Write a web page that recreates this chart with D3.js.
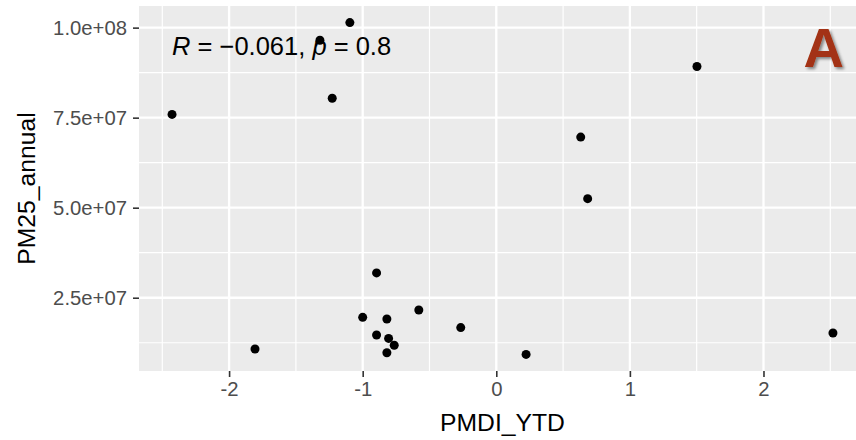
<!DOCTYPE html>
<html>
<head>
<meta charset="utf-8">
<script src="https://cdn.jsdelivr.net/npm/d3@7"></script>
<style>
  body { margin: 0; background: #fff; }
  text { font-family: "Liberation Sans", Arial, sans-serif; }
</style>
</head>
<body>
<div id="chart"></div>
<script>
// values
var pmdi = [-1.096, -1.32, -1.228, -2.427, 1.502, 0.632, 0.684, -0.896, -0.58, -1.0,
            -0.819, -0.896, -0.806, -0.764, -0.819, -1.806, -0.266, 0.223, 2.52]
var pm25 = [1.014e8, 9.65e7, 8.04e7, 7.59e7, 8.92e7, 6.96e7, 5.25e7, 3.19e7, 2.16e7, 1.955e7,
            1.91e7, 1.465e7, 1.37e7, 1.18e7, 0.973e7, 1.076e7, 1.67e7, 0.926e7, 1.52e7]
var xTicks = [-2, -1, 0, 1, 2]
var xMinor = [-2.5, -1.5, -0.5, 0.5, 1.5, 2.5]
var yTicks = [2.5e7, 5.0e7, 7.5e7, 1.0e8]
var yMinor = [1.25e7, 3.75e7, 6.25e7, 8.75e7]
var yLabels = ["2.5e+07", "5.0e+07", "7.5e+07", "1.0e+08"]

var width = 856
var height = 440
var pL = 139, pR = 866, pT = 6, pB = 371

// ggplot style 5% expansion
function expand(ext) {
  var pad = (ext[1] - ext[0]) * 0.05
  return [ext[0] - pad, ext[1] + pad]
}
var x = d3.scaleLinear().domain(expand(d3.extent(pmdi))).range([pL, pR])
var y = d3.scaleLinear().domain(expand(d3.extent(pm25))).range([pB, pT])

var svg = d3.select("#chart").append("svg")
    .attr("width", width)
    .attr("height", height)

var defs = svg.append("defs")
defs.append("clipPath").attr("id", "panel")
  .append("rect").attr("x", pL).attr("y", pT)
  .attr("width", pR - pL).attr("height", pB - pT)
var sh = defs.append("filter").attr("id", "shadow")
  .attr("x", "-20%").attr("y", "-20%").attr("width", "150%").attr("height", "150%")
sh.append("feDropShadow").attr("dx", 2).attr("dy", 2).attr("stdDeviation", 1.5)
  .attr("flood-color", "#000").attr("flood-opacity", 0.45)

var panel = svg.append("g").attr("clip-path", "url(#panel)")
panel.append("rect")
    .attr("x", pL).attr("y", pT)
    .attr("width", pR - pL).attr("height", pB - pT)
    .attr("fill", "#ebebeb")

// grid
panel.selectAll(".xminor").data(xMinor).enter().append("line")
    .attr("x1", d => x(d)).attr("x2", d => x(d))
    .attr("y1", pT).attr("y2", pB)
    .attr("stroke", "#fff").attr("stroke-width", 1.2)
panel.selectAll(".yminor").data(yMinor).enter().append("line")
    .attr("y1", d => y(d)).attr("y2", d => y(d))
    .attr("x1", pL).attr("x2", pR)
    .attr("stroke", "#fff").attr("stroke-width", 1.2)
panel.selectAll(".xmajor").data(xTicks).enter().append("line")
    .attr("x1", d => x(d)).attr("x2", d => x(d))
    .attr("y1", pT).attr("y2", pB)
    .attr("stroke", "#fff").attr("stroke-width", 2.3)
panel.selectAll(".ymajor").data(yTicks).enter().append("line")
    .attr("y1", d => y(d)).attr("y2", d => y(d))
    .attr("x1", pL).attr("x2", pR)
    .attr("stroke", "#fff").attr("stroke-width", 2.3)

// axes
var xAxis = svg.append("g")
    .attr("transform", "translate(0," + pB + ")")
    .call(d3.axisBottom(x).tickValues(xTicks).tickSize(6).tickPadding(5).tickFormat(d3.format("d")))
var yAxis = svg.append("g")
    .attr("transform", "translate(" + pL + ",0)")
    .call(d3.axisLeft(y).tickValues(yTicks).tickSize(6).tickPadding(6).tickFormat((d, i) => yLabels[i]))
;[xAxis, yAxis].forEach(function(a) {
  a.select(".domain").remove()
  a.selectAll(".tick line").attr("stroke", "#333").attr("stroke-width", 1.6)
  a.selectAll(".tick text").attr("fill", "#4d4d4d")
    .style("font-size", "20.3px")
    .style("font-family", "'Liberation Sans', Arial, sans-serif")
})
xAxis.selectAll(".tick text").text(d => d < 0 ? "-" + Math.abs(d) : d)

// points
panel.selectAll("circle").data(pmdi).enter().append("circle")
    .attr("cx", d => x(d))
    .attr("cy", (d, i) => y(pm25[i]))
    .attr("r", 4.5)
    .attr("fill", "#000")

// correlation label
var lab = svg.append("text")
    .attr("x", x(d3.min(pmdi)))
    .attr("y", y(d3.max(pm25)) + 32)
    .style("font-size", "25.5px")
    .attr("fill", "#000")
lab.append("tspan").style("font-style", "italic").text("R")
lab.append("tspan").text(" = \u22120.061, ")
lab.append("tspan").style("font-style", "italic").text("p")
lab.append("tspan").text(" = 0.8")

// axis titles
svg.append("text")
    .attr("x", (pL + pR) / 2).attr("y", 431)
    .attr("text-anchor", "middle")
    .style("font-size", "24.7px")
    .text("PMDI_YTD")
svg.append("text")
    .attr("transform", "translate(35," + (pT + pB) / 2 + ") rotate(-90)")
    .attr("text-anchor", "middle")
    .style("font-size", "24.7px")
    .text("PM25_annual")

// panel letter
svg.append("text")
    .attr("x", 844).attr("y", 67)
    .attr("text-anchor", "end")
    .style("font-size", "56px")
    .style("font-weight", "bold")
    .attr("fill", "#a33312")
    .attr("filter", "url(#shadow)")
    .text("A")
</script>
</body>
</html>
